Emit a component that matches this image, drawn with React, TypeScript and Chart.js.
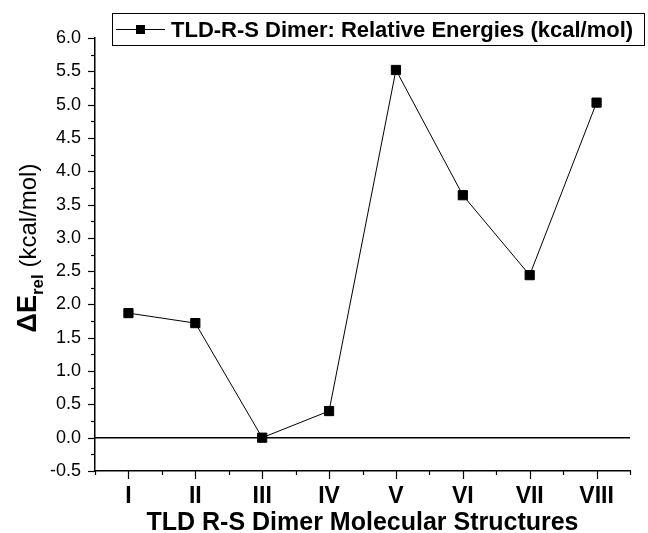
import React, { useEffect, useRef } from 'react';
import { Chart, registerables } from 'chart.js';

Chart.register(...registerables);

const categories = ['I', 'II', 'III', 'IV', 'V', 'VI', 'VII', 'VIII'];
const energies = [1.87, 1.72, 0.0, 0.4, 5.52, 3.64, 2.44, 5.03];
const seriesLabel = 'TLD-R-S Dimer: Relative Energies (kcal/mol)';
const xTitle = 'TLD R-S Dimer Molecular Structures';
const yTitleMain = 'ΔE';
const yTitleSub = 'rel';
const yTitleUnit = ' (kcal/mol)';
const yMin = -0.5;
const yMax = 6.0;
const yStep = 0.5;

const FONT = '"Liberation Sans", Arial, Helvetica, sans-serif';

const decorPlugin = {
  id: 'decor',
  afterDraw(chart: any) {
    const { ctx, chartArea, scales } = chart;
    const x = scales.x;
    const y = scales.y;
    ctx.save();
    ctx.strokeStyle = '#000';
    ctx.fillStyle = '#000';

    // y ticks (major + minor)
    ctx.lineWidth = 1.2;
    const nY = Math.round((yMax - yMin) / (yStep / 2));
    for (let i = 0; i <= nY; i++) {
      const v = yMin + (i * yStep) / 2;
      const py = Math.round(y.getPixelForValue(v)) + 0.5;
      const len = i % 2 === 0 ? 7 : 4;
      ctx.beginPath();
      ctx.moveTo(chartArea.left - len, py);
      ctx.lineTo(chartArea.left, py);
      ctx.stroke();
    }
    // x ticks (major at categories, minor at boundaries)
    for (let i = 0; i < categories.length; i++) {
      const px = Math.round(x.getPixelForValue(i)) + 0.5;
      ctx.beginPath();
      ctx.moveTo(px, chartArea.bottom);
      ctx.lineTo(px, chartArea.bottom + 8);
      ctx.stroke();
    }
    for (let i = 0; i <= categories.length; i++) {
      const px = Math.round(x.getPixelForValue(i - 0.5)) + 0.5;
      ctx.beginPath();
      ctx.moveTo(px, chartArea.bottom);
      ctx.lineTo(px, chartArea.bottom + 4);
      ctx.stroke();
    }

    // y title with subscript (rotated)
    ctx.save();
    ctx.translate(36, 248);
    ctx.rotate(-Math.PI / 2);
    ctx.textBaseline = 'alphabetic';
    ctx.textAlign = 'left';
    const fMain = `bold 27px ${FONT}`;
    const fSub = `bold 17px ${FONT}`;
    const fUnit = `24px ${FONT}`;
    ctx.font = fMain;
    const w1 = ctx.measureText(yTitleMain).width;
    ctx.font = fSub;
    const w2 = ctx.measureText(yTitleSub).width;
    ctx.font = fUnit;
    const w3 = ctx.measureText(yTitleUnit).width;
    let sx = -(w1 + w2 + w3) / 2;
    ctx.font = fMain;
    ctx.fillText(yTitleMain, sx, 0);
    sx += w1;
    ctx.font = fSub;
    ctx.fillText(yTitleSub, sx, 7);
    sx += w2;
    ctx.font = fUnit;
    ctx.fillText(yTitleUnit, sx, 0);
    ctx.restore();

    // legend
    const ds = chart.data.datasets[0];
    ctx.lineWidth = 1;
    ctx.strokeRect(112.5, 13.5, 532, 32);
    ctx.beginPath();
    ctx.moveTo(116, 29.5);
    ctx.lineTo(165, 29.5);
    ctx.stroke();
    ctx.fillRect(136, 25, 9, 9);
    ctx.font = `bold 22px ${FONT}`;
    ctx.textBaseline = 'alphabetic';
    ctx.textAlign = 'left';
    ctx.fillText(ds.label, 171, 37);
    ctx.restore();
  },
  beforeDatasetsDraw(chart: any) {
    const { ctx, chartArea, scales } = chart;
    const py = scales.y.getPixelForValue(0);
    ctx.save();
    ctx.strokeStyle = '#000';
    ctx.lineWidth = 1.5;
    ctx.beginPath();
    ctx.moveTo(chartArea.left, py);
    ctx.lineTo(chartArea.right, py);
    ctx.stroke();
    ctx.restore();
  },
};

export default function App() {
  const canvasRef = useRef<HTMLCanvasElement>(null);

  useEffect(() => {
    if (!canvasRef.current) return;
    const chart = new Chart(canvasRef.current, {
      type: 'line',
      data: {
        labels: categories,
        datasets: [
          {
            label: seriesLabel,
            data: energies,
            borderColor: '#000',
            backgroundColor: '#000',
            borderWidth: 1,
            pointStyle: 'rect',
            pointRadius: 6.5,
            pointBorderWidth: 1,
            pointBackgroundColor: '#000',
            pointBorderColor: '#000',
            tension: 0,
          },
        ],
      },
      options: {
        responsive: false,
        animation: false,
        events: [],
        layout: { padding: { left: 0, top: 38, right: 18, bottom: 0 } },
        plugins: {
          legend: { display: false },
          tooltip: { enabled: false },
        },
        scales: {
          x: {
            type: 'category',
            offset: true,
            grid: { display: false },
            border: { display: true, color: '#000', width: 1.5 },
            ticks: {
              color: '#000',
              padding: 6,
              font: { family: FONT, size: 23, weight: 'bold', lineHeight: 1 },
            },
            title: {
              display: true,
              text: xTitle,
              color: '#000',
              padding: { top: 0, bottom: 0 },
              font: { family: FONT, size: 25, weight: 'bold', lineHeight: 0.8 },
            },
            afterFit(scale: any) {
              scale.height = 62;
            },
          },
          y: {
            type: 'linear',
            min: yMin,
            max: yMax,
            grid: { display: false },
            border: { display: true, color: '#000', width: 1.5 },
            ticks: {
              stepSize: yStep,
              color: '#000',
              padding: 6,
              font: { family: FONT, size: 18 },
              callback: (v: any) => Number(v).toFixed(1),
            },
            afterFit(scale: any) {
              scale.width = 95;
            },
          },
        },
      },
      plugins: [decorPlugin],
    });
    return () => chart.destroy();
  }, []);

  return (
    <div style={{ position: 'absolute', left: 0, top: 0, width: 648, height: 533, background: '#fff' }}>
      <canvas ref={canvasRef} width={648} height={533} style={{ display: 'block' }} />
    </div>
  );
}
